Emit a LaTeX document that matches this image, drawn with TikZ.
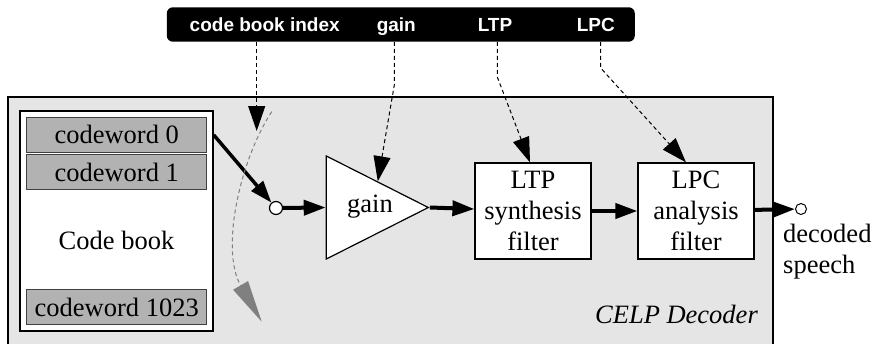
\documentclass[tikz,border=0pt]{standalone}
\usepackage{fontspec}
\setmainfont{Liberation Serif}
\newfontfamily\barfont{Liberation Sans}
\usetikzlibrary{arrows.meta,shapes.geometric}

\begin{document}
\begin{tikzpicture}[
  x=1pt,y=-1pt,
  every node/.style={font=\fontsize{26.5}{31}\selectfont},
  panel/.style={draw,line width=1.2pt,fill=black!10,minimum width=765pt,minimum height=248pt,inner sep=0pt},
  blk/.style={draw,line width=1.2pt,fill=white,minimum width=116pt,minimum height=96pt,align=center,inner sep=0pt},
  word/.style={draw=black!75,line width=1.2pt,fill=black!30,minimum width=180pt,minimum height=35pt,inner sep=0pt},
  amp/.style={isosceles triangle,isosceles triangle stretches,shape border rotate=0,draw,line width=1.2pt,fill=white,minimum width=103pt,minimum height=102pt,inner sep=0pt},
  dot/.style={circle,draw,line width=1.2pt,fill=white,inner sep=0pt},
  barlbl/.style={white,font=\barfont\bfseries\fontsize{19}{22}\selectfont,anchor=base,inner sep=0pt},
  flow/.style={-{Triangle[length=22pt,width=15pt]},line width=4pt},
  ctrl/.style={-{Triangle[length=25pt,width=17pt]},line width=1pt,dash pattern=on 4pt off 3pt},
  sweep/.style={-{Triangle[length=42pt,width=17pt]},line width=1pt,black!50,dash pattern=on 4pt off 3pt}
]
  \useasboundingbox (0,0) rectangle (875,343);

  % decoder frame
  \node[panel] (dec) at (390.5,221) {};
  \node[anchor=base east,inner sep=0pt,font=\fontsize{26.5}{31}\selectfont\itshape] (celp) at (758,323) {CELP Decoder};

  % code book
  \node[draw,line width=1.2pt,fill=white,minimum width=193pt,minimum height=220pt,inner sep=0pt] (book) at (116.5,221) {};
  \foreach \n/\y in {0/134.8,1/172,1023/307}
    \node[word] (w\n) at (116.7,\y) {codeword \n};
  \node (booklbl) at (116.5,240) {Code book};

  % parameter bar
  \node[fill=black,rounded corners=6pt,minimum width=468pt,minimum height=34.4pt,inner sep=0pt] (bar) at (400.8,24.5) {};
  \foreach \x/\t/\n in {264.7/code book index/idxl,396.3/gain/gainl,495/LTP/ltpl,595.8/LPC/lpcl}
    \node[barlbl] (\n) at (\x,31.5) {\t};

  % signal chain
  \node[dot,minimum size=13pt] (jn) at (276,208) {};
  \node[amp] (gain) at (358,207.5) {};
  \node (gaintxt) at (370,207) {gain};
  \node[blk] (ltp) at (533,211) {LTP\\synthesis\\filter};
  \node[blk] (lpc) at (696,211) {LPC\\analysis\\filter};
  \node[dot,minimum size=11pt,line width=1pt] (out) at (801,209) {};
  \node[align=left,anchor=west,inner sep=0pt] (outlbl) at (783,252) {decoded\\speech};

  \draw[flow,line width=3.5pt] (book.east |- w0) -- (jn);
  \draw[flow] (jn) -- (gain.west);
  \draw[flow] (gain.apex) -- (ltp);
  \draw[flow] (ltp) -- (lpc);
  \draw[flow] (lpc) -- (out);

  % parameter lines
  \coordinate (sel) at (256.7,131);
  \coordinate (gbend) at (394.3,85);
  \coordinate (tbend) at (497.3,77);
  \coordinate (lbend) at (600.7,68);
  \draw[ctrl] (bar.south -| sel) -- (sel);
  \draw[ctrl] (bar.south -| gbend) -- (gbend) -- (gain.left side);
  \draw[ctrl] (bar.south -| tbend) -- (tbend) -- ([xshift=-3pt]ltp.north);
  \draw[ctrl] (bar.south -| lbend) -- (lbend) -- ([xshift=-10pt]lpc.north);

  % index sweep
  \coordinate (swa) at (271.7,111.7);
  \coordinate (swb) at (261.7,321.7);
  \draw[sweep] (swa) .. controls (240,160) and (220,250) .. (swb);
\end{tikzpicture}
\end{document}
